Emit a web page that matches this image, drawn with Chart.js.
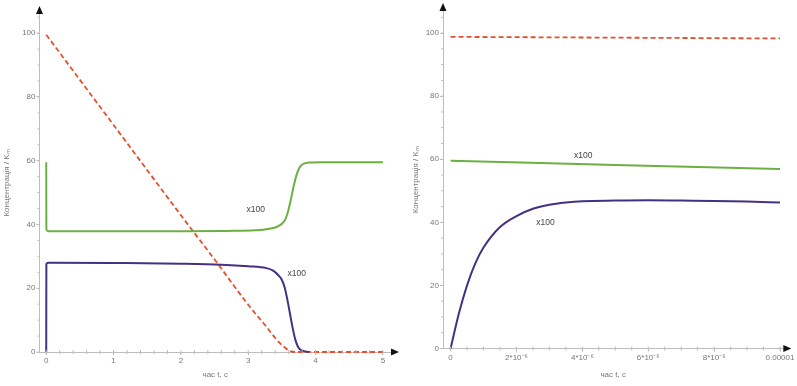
<!DOCTYPE html>
<html>
<head>
<meta charset="utf-8">
<script src="https://cdn.jsdelivr.net/npm/chart.js@4/dist/chart.umd.min.js"></script>
<style>
  body { margin: 0; background: #fff; }
  .plot { position: absolute; top: 0; height: 386px; }
  #left { left: 0; width: 400px; }
  #right { left: 400px; width: 397px; }
</style>
</head>
<body>
<div class="plot" id="left"><canvas id="chart_left"></canvas></div>
<div class="plot" id="right"><canvas id="chart_right"></canvas></div>
<script>
// ---- left plot: 0..5 s ----
const left_t_red = [0, 1, 2, 2.55, 3.0, 3.27, 3.4, 3.47, 3.55, 3.62, 3.7, 5];
const left_red = [99.5, 71.2, 42.9, 27.6, 14.8, 7.9, 4.4, 2.8, 1.3, 0.3, 0, 0];

const left_t_green = [0, 0.002, 0.03, 1, 2, 2.8, 3.1, 3.3, 3.42, 3.5, 3.55, 3.59, 3.63, 3.67, 3.71, 3.75, 3.8, 3.9, 4.1, 5];
const left_green = [59.5, 38.5, 37.9, 37.9, 37.9, 38.0, 38.2, 38.6, 39.2, 40.2, 41.6, 44, 47.5, 51.6, 55.0, 57.4, 58.8, 59.4, 59.5, 59.5];

const left_t_purple = [0, 0.002, 0.03, 1, 2, 2.6, 3.0, 3.27, 3.37, 3.45, 3.5, 3.54, 3.58, 3.62, 3.66, 3.7, 3.74, 3.8, 3.9];
const left_purple = [0, 27.6, 28, 27.9, 27.7, 27.4, 26.9, 26.3, 25.5, 24.0, 22.6, 20.3, 16.5, 12.0, 7.5, 3.8, 1.6, 0.4, 0];

const left_x_ticks = [0, 1, 2, 3, 4, 5];
const left_y_ticks = [0, 20, 40, 60, 80, 100];

// ---- right plot: 0..1e-5 s ----
const right_t_red = [0, 1e-5];
const right_red = [98.8, 98.3];

const right_t_green = [0, 5e-6, 1e-5];
const right_green = [59.5, 58.2, 56.9];

const right_t_purple = [0, 0.25e-6, 0.5e-6, 0.75e-6, 1e-6, 1.5e-6, 2e-6, 2.5e-6, 3e-6, 3.5e-6, 4e-6, 5e-6, 6e-6, 7e-6, 8e-6, 9e-6, 1e-5];
const right_purple = [0, 11, 20, 27, 32, 38.5, 42, 44.3, 45.6, 46.3, 46.7, 46.9, 47.0, 46.9, 46.8, 46.6, 46.3];

const right_x_ticks = [0, 2e-6, 4e-6, 6e-6, 8e-6, 1e-5];
const right_x_labels = ['0', '2*10\u207B\u2076', '4*10\u207B\u2076', '6*10\u207B\u2076', '8*10\u207B\u2076', '0.00001'];
const right_y_ticks = [0, 20, 40, 60, 80, 100];

const y_title = 'Концентрація / K\u2098';
const x_title = 'час t, с';
const note = 'x100';

const RED = '#e4502f';
const GREEN = '#6cb043';
const PURPLE = '#463082';
const AXIS = '#bdbdbd';
const TEXT = '#777';
const FONT = '"Liberation Sans", Arial, sans-serif';

const pts = (ts, vs) => ts.map((t, i) => ({x: t, y: vs[i]}));

const line = (data, color, dashed) => ({
  data: data,
  borderColor: color,
  borderWidth: dashed ? 1.8 : 2,
  borderDash: dashed ? [5, 3] : [],
  pointRadius: 0,
  cubicInterpolationMode: 'monotone',
  clip: 4,
  fill: false
});

// minor ticks, arrowheads and the "x100" notes
const axisDecor = {
  id: 'axisDecor',
  afterDraw(chart, args, opts) {
    const {ctx, chartArea: a, scales: {x, y}} = chart;
    ctx.save();
    ctx.strokeStyle = AXIS;
    ctx.lineWidth = 1;
    ctx.beginPath();
    opts.xMinor.forEach(v => {
      const px = x.getPixelForValue(v);
      ctx.moveTo(px, a.bottom - 2);
      ctx.lineTo(px, a.bottom + 2);
    });
    opts.yMinor.forEach(v => {
      const py = y.getPixelForValue(v);
      ctx.moveTo(a.left - 2, py);
      ctx.lineTo(a.left, py);
    });
    ctx.stroke();

    ctx.fillStyle = '#111';
    ctx.beginPath();
    ctx.moveTo(a.left - 3.5, a.top);
    ctx.lineTo(a.left + 3.5, a.top);
    ctx.lineTo(a.left, a.top - 8);
    ctx.closePath();
    ctx.fill();
    ctx.beginPath();
    ctx.moveTo(a.right, a.bottom - 3.5);
    ctx.lineTo(a.right, a.bottom + 3.5);
    ctx.lineTo(a.right + 8, a.bottom);
    ctx.closePath();
    ctx.fill();

    ctx.font = '8.5px ' + FONT;
    ctx.fillStyle = '#444';
    ctx.textAlign = 'center';
    ctx.textBaseline = 'middle';
    opts.notes.forEach(n => ctx.fillText(note, x.getPixelForValue(n.x), y.getPixelForValue(n.y)));
    ctx.restore();
  }
};

const makeChart = (canvas, cfg) => new Chart(canvas, {
  type: 'line',
  data: { datasets: cfg.datasets },
  plugins: [axisDecor],
  options: {
    responsive: true,
    maintainAspectRatio: false,
    animation: false,
    layout: { padding: { top: cfg.padTop, right: cfg.padRight, left: 0, bottom: 0 } },
    plugins: {
      legend: { display: false },
      tooltip: { enabled: false },
      axisDecor: { xMinor: cfg.xMinor, yMinor: cfg.yMinor, notes: cfg.notes }
    },
    scales: {
      x: {
        type: 'linear',
        min: cfg.xMin,
        max: cfg.xMax,
        afterBuildTicks: s => { s.ticks = cfg.xTicks.map(v => ({value: v})); },
        afterFit: s => { s.height = cfg.xHeight; },
        grid: { display: true, drawOnChartArea: false, tickLength: 3, color: AXIS },
        border: { display: true, color: AXIS, width: 1 },
        ticks: {
          autoSkip: false,
          maxRotation: 0,
          padding: 1,
          color: TEXT,
          font: { family: FONT, size: 8 },
          callback: cfg.xLabel
        },
        title: {
          display: true,
          text: x_title,
          color: TEXT,
          font: { family: FONT, size: 8 },
          padding: { top: 0, bottom: 6 }
        }
      },
      y: {
        type: 'linear',
        min: 0,
        max: cfg.yMax,
        afterBuildTicks: s => { s.ticks = cfg.yTicks.map(v => ({value: v})); },
        afterFit: s => { s.width = cfg.yWidth; },
        grid: { display: true, drawOnChartArea: false, tickLength: 3, color: AXIS },
        border: { display: true, color: AXIS, width: 1 },
        ticks: {
          padding: 1,
          color: TEXT,
          font: { family: FONT, size: 8 }
        },
        title: {
          display: true,
          text: y_title,
          color: TEXT,
          font: { family: FONT, size: 8 },
          padding: { top: cfg.yTitlePad, bottom: 0 }
        }
      }
    }
  }
});

const left_x_minor = [];
for (let v = 0; v <= 5.01; v += 0.2) left_x_minor.push(v);
const right_x_minor = [];
for (let v = 0; v <= 1.001e-5; v += 0.5e-6) right_x_minor.push(v);
const y_minor = [];
for (let v = 0; v <= 105; v += 5) y_minor.push(v);

makeChart(document.getElementById('chart_left'), {
  datasets: [
    line(pts(left_t_green, left_green), GREEN),
    line(pts(left_t_purple, left_purple), PURPLE),
    line(pts(left_t_red, left_red), RED, true)
  ],
  xMin: -0.1, xMax: 5.12, yMax: 106,
  xTicks: left_x_ticks, yTicks: left_y_ticks,
  xLabel: v => String(v),
  xMinor: left_x_minor, yMinor: y_minor,
  notes: [{x: 3.11, y: 44.7}, {x: 3.72, y: 24.7}],
  padTop: 14, padRight: 9, xHeight: 34, yWidth: 39.5, yTitlePad: 2
});

makeChart(document.getElementById('chart_right'), {
  datasets: [
    line(pts(right_t_green, right_green), GREEN),
    line(pts(right_t_purple, right_purple), PURPLE),
    line(pts(right_t_red, right_red), RED, true)
  ],
  xMin: -0.23e-6, xMax: 1.01e-5, yMax: 107,
  xTicks: right_x_ticks, yTicks: right_y_ticks,
  xLabel: (v, i) => right_x_labels[i],
  xMinor: right_x_minor, yMinor: y_minor,
  notes: [{x: 4.03e-6, y: 61}, {x: 2.88e-6, y: 40}],
  padTop: 11, padRight: 13.7, xHeight: 37.5, yWidth: 43, yTitlePad: 11
});
</script>
</body>
</html>
